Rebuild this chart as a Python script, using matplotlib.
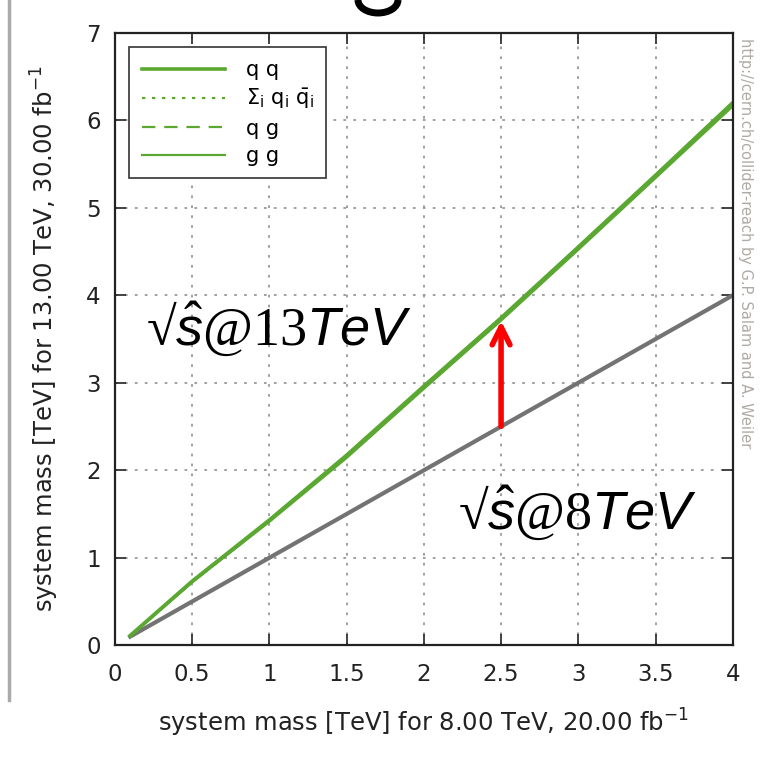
import matplotlib.pyplot as plt
from matplotlib.lines import Line2D
from matplotlib.patches import Arc

# system mass at 8 TeV (x) and equivalent reach at 13 TeV (y)
mass_8 = [0.1, 0.5, 1.0, 1.5, 2.0, 2.5, 3.0, 3.5, 4.0]
qq = [0.11, 0.73, 1.43, 2.17, 2.96, 3.74, 4.55, 5.37, 6.20]
qqbar = [0.11, 0.72, 1.42, 2.16, 2.95, 3.73, 4.54, 5.36, 6.19]
qg = [0.11, 0.72, 1.42, 2.15, 2.94, 3.72, 4.53, 5.35, 6.17]
gg = [0.11, 0.72, 1.41, 2.14, 2.93, 3.71, 4.52, 5.34, 6.16]
same = [0.1, 0.5, 1.0, 1.5, 2.0, 2.5, 3.0, 3.5, 4.0]

series_labels = ['q q', r'$\Sigma_\mathregular{i}\ \mathregular{q_i}\ \mathregular{\bar{q}_i}$', 'q g', 'g g']
xtick_vals = [0, 0.5, 1, 1.5, 2, 2.5, 3, 3.5, 4]
xtick_labels = ['0', '0.5', '1', '1.5', '2', '2.5', '3', '3.5', '4']

# custom math fonts for the big annotations (serif digits, sans italic letters)
plt.rcParams['mathtext.fontset'] = 'custom'
plt.rcParams['mathtext.rm'] = 'Liberation Serif'
plt.rcParams['mathtext.it'] = 'Liberation Sans:italic'
plt.rcParams['mathtext.bf'] = 'Liberation Sans:bold'

green = '#5aa832'
ink = '#222222'

fig = plt.figure(figsize=(7.65, 7.61), dpi=100)
ax = fig.add_axes([0.150, 0.152, 0.808, 0.805])

ax.plot(mass_8, same, color='#737373', lw=3.0)
ax.plot(mass_8, gg, color=green, lw=1.6, ls='-')
ax.plot(mass_8, qg, color=green, lw=1.6, ls=(0, (6, 4)))
ax.plot(mass_8, qqbar, color=green, lw=1.6, ls=(0, (1.5, 3)))
ax.plot(mass_8, qq, color=green, lw=2.8, ls='-')

ax.set_xlim(0, 4)
ax.set_ylim(0, 7)
ax.set_xticks(xtick_vals)
ax.set_xticklabels(xtick_labels)
ax.set_yticks(range(8))
ax.tick_params(direction='in', top=True, right=True, length=8, width=1.2,
               labelsize=16.5, colors=ink)
ax.tick_params(axis='x', pad=13)
ax.tick_params(axis='y', pad=10)
ax.grid(True, color='#999999', ls=(0, (1.5, 4)), lw=1.3)
for sp in ax.spines.values():
    sp.set_linewidth(1.6)
    sp.set_color(ink)

ax.set_xlabel(r'system mass [TeV] for 8.00 TeV, 20.00 fb$^{\mathregular{-1}}$',
              fontsize=17.5, color=ink, labelpad=15, math_fontfamily='dejavusans')
ax.set_ylabel(r'system mass [TeV] for 13.00 TeV, 30.00 fb$^{\mathregular{-1}}$',
              fontsize=17.5, color=ink, labelpad=18, math_fontfamily='dejavusans')

handles = [
    Line2D([], [], color=green, lw=2.6),
    Line2D([], [], color=green, lw=1.6, ls=(0, (1.5, 3))),
    Line2D([], [], color=green, lw=1.6, ls=(0, (6, 4))),
    Line2D([], [], color=green, lw=1.6),
]
leg = ax.legend(handles, series_labels, loc='upper left', fontsize=15,
                fancybox=False, framealpha=1, edgecolor='#333333',
                handlelength=4.0, borderaxespad=0.7, labelspacing=0.35,
                handletextpad=1.0, borderpad=0.6)
leg.get_frame().set_linewidth(1.2)
for t in leg.get_texts():
    t.set_math_fontfamily('dejavusans')

# annotations
ax.text(0.2, 3.43, '√' + r'$\hat{s}\mathrm{@13}\mathit{TeV}$', fontsize=39,
        family='Liberation Serif', va='baseline', ha='left')
ax.text(2.22, 1.33, '√' + r'$\hat{s}\mathrm{@8}\mathit{TeV}$', fontsize=39,
        family='Liberation Serif', va='baseline', ha='left')
ax.annotate('', xy=(2.5, 3.74), xytext=(2.5, 2.47),
            arrowprops=dict(arrowstyle='->', color='red', lw=4,
                            mutation_scale=32))

fig.text(0.975, 0.95, 'http://cern.ch/collider-reach by G.P. Salam and A. Weiler',
         rotation=-90, fontsize=10.5, color='#b0aaa4', va='top', ha='center')

# page edge and cut-off heading remnant
fig.add_artist(Line2D([0.012, 0.012], [0.08, 1.0], color='#aaaaaa', lw=2.5))
fig.add_artist(Arc((378 / 765, 1.0), 40 / 765, 26 / 761, theta1=180, theta2=360,
                   transform=fig.transFigure, color='black', lw=5))

fig.savefig('out.png', dpi=100)
